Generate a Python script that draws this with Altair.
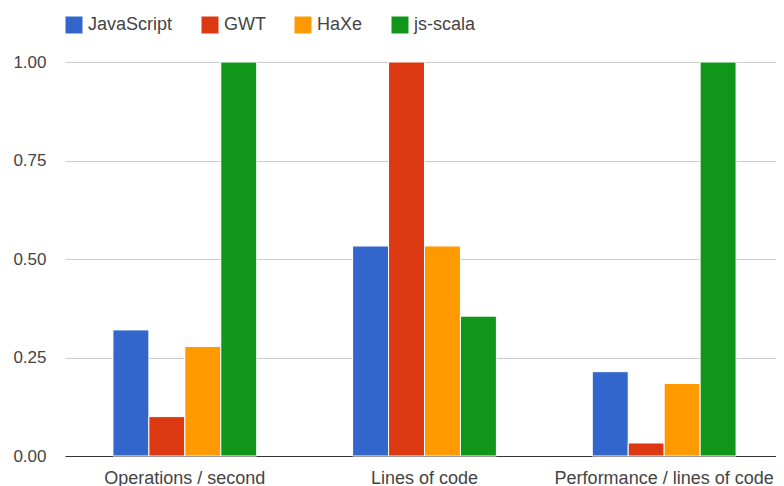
import altair as alt
import pandas as pd

categories = ["Operations / second", "Lines of code", "Performance / lines of code"]
series = ["JavaScript", "GWT", "HaXe", "js-scala"]
colors = ["#3366cc", "#dc3912", "#ff9900", "#109618"]
javascript = [0.320, 0.533, 0.214]
gwt = [0.100, 1.000, 0.033]
haxe = [0.278, 0.533, 0.184]
js_scala = [1.000, 0.355, 1.000]
y_ticks = [0, 0.25, 0.5, 0.75, 1.0]

rows = []
for s, vals in zip(series, [javascript, gwt, haxe, js_scala]):
    for c, v in zip(categories, vals):
        rows.append({"category": c, "series": s, "value": v})
df = pd.DataFrame(rows)

FONT = "Arial, Liberation Sans, sans-serif"

chart = alt.Chart(df).mark_bar(stroke="white", strokeWidth=1).encode(
    x=alt.X("category:N", sort=categories, title=None,
            scale=alt.Scale(range=[0, 719], paddingInner=0.4, paddingOuter=0.2),
            axis=alt.Axis(labelAngle=0, ticks=False, domainColor="#333333",
                          domainWidth=1, labelPadding=13, labelFontSize=18,
                          labelColor="#444444", labelFont=FONT, grid=False,
                          labelLimit=0, labelOverlap=False)),
    xOffset=alt.XOffset("series:N", sort=series, scale=alt.Scale(paddingInner=0, paddingOuter=0)),
    y=alt.Y("value:Q", title=None,
            scale=alt.Scale(domain=[0, 1], nice=False),
            axis=alt.Axis(values=y_ticks, format=".2f", ticks=False, domain=False,
                          gridColor="#cccccc", labelPadding=19, labelFontSize=17,
                          labelColor="#444444", labelFont=FONT)),
    color=alt.Color("series:N", sort=series,
                    scale=alt.Scale(domain=series, range=colors),
                    legend=alt.Legend(title=None, orient="none", direction="horizontal",
                                      legendX=0, legendY=-46, symbolType="square",
                                      symbolSize=289, symbolStrokeWidth=0, symbolOpacity=1,
                                      labelFontSize=18, labelColor="#444444", labelFont=FONT,
                                      labelOffset=5, columnPadding=28, padding=0)),
).properties(
    width=711, height=394,
    autosize=alt.AutoSizeParams(type="none"),
    padding={"left": 57, "top": 54, "right": 0, "bottom": 30},
).configure_view(stroke=None)

chart.save("out.html", embed_options={"renderer": "svg", "actions": False})
